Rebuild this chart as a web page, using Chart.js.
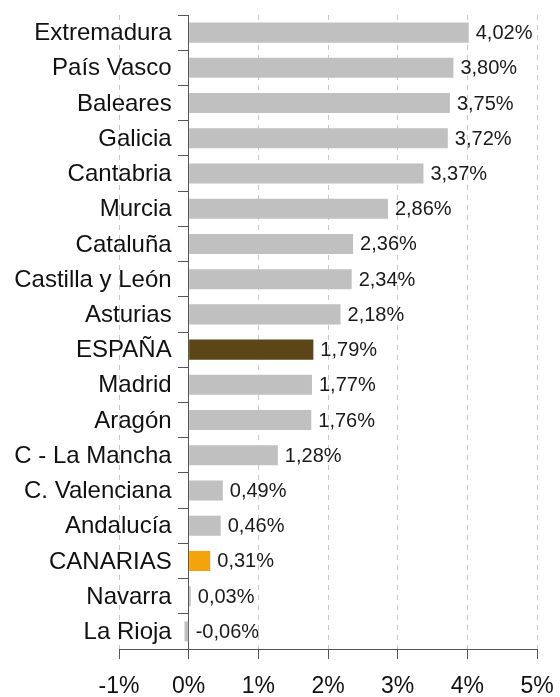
<!DOCTYPE html>
<html>
<head>
<meta charset="utf-8">
<script src="https://cdn.jsdelivr.net/npm/chart.js@4"></script>
<style>
  body { margin: 0; background: #fff; }
  #wrap { width: 560px; height: 697px; position: relative; }
</style>
</head>
<body>
<div id="wrap"><canvas id="growth-chart"></canvas></div>
<script>
// ============ DATA ===========================//

const regions = ["Extremadura", "País Vasco", "Baleares", "Galicia", "Cantabria",
  "Murcia", "Cataluña", "Castilla y León", "Asturias", "ESPAÑA", "Madrid", "Aragón",
  "C - La Mancha", "C. Valenciana", "Andalucía", "CANARIAS", "Navarra", "La Rioja"];

const growth = [4.02, 3.80, 3.75, 3.72, 3.37, 2.86, 2.36, 2.34, 2.18, 1.79, 1.77, 1.76,
  1.28, 0.49, 0.46, 0.31, 0.03, -0.06];

const xTicks = [-1, 0, 1, 2, 3, 4, 5];

// ============ COLOURS ===========================//

const barGrey = "#c0c0c0";
const spainColor = "#5c4516";
const canaryColor = "#f5a30c";
const axisColor = "#555555";
const fontFamily = "'Liberation Sans', Arial, sans-serif";

const barColors = regions.map((r) => {
  if (r === "ESPAÑA") return spainColor;
  if (r === "CANARIAS") return canaryColor;
  return barGrey;
});

// ============ LABELS (category names + values) ===========================//

const chartLabels = {
  id: "chartLabels",
  afterDatasetsDraw(chart) {
    const ctx = chart.ctx;
    const yScale = chart.scales.y;
    const zero = chart.scales.x.getPixelForValue(0);
    const meta = chart.getDatasetMeta(0);
    ctx.save();
    ctx.textBaseline = "middle";

    // region names, right of them the axis ticks
    ctx.font = "24px " + fontFamily;
    ctx.fillStyle = "#111";
    ctx.textAlign = "right";
    regions.forEach((r, i) => {
      ctx.fillText(r, zero - 17, yScale.getPixelForTick(i) + 1);
    });

    // value labels at the bar ends
    ctx.font = "20px " + fontFamily;
    ctx.fillStyle = "#1a1a1a";
    ctx.textAlign = "left";
    meta.data.forEach((bar, i) => {
      const txt = growth[i].toFixed(2).replace(".", ",") + "%";
      ctx.fillText(txt, Math.max(bar.x, zero) + 7, bar.y + 1);
    });
    ctx.restore();
  }
};

// ============ CHART ===========================//

const growthChart = new Chart(document.getElementById("growth-chart"), {
  type: "bar",
  data: {
    labels: regions,
    datasets: [{
      data: growth,
      backgroundColor: barColors,
      borderWidth: 0,
      barPercentage: 0.57,
      categoryPercentage: 1
    }]
  },
  options: {
    indexAxis: "y",
    responsive: true,
    maintainAspectRatio: false,
    animation: false,
    layout: { padding: { left: 119, right: 23, top: 15, bottom: 0 } },
    plugins: {
      legend: { display: false },
      tooltip: { enabled: false }
    },
    scales: {
      x: {
        min: -1,
        max: 5,
        afterBuildTicks: (axis) => { axis.ticks = xTicks.map((v) => ({ value: v })); },
        afterFit: (axis) => {
          axis.height = 48;
          axis.paddingLeft = 0;
          axis.paddingRight = 0;
        },
        grid: {
          color: "#c8c8c8",
          lineWidth: 1,
          tickColor: axisColor,
          tickLength: 10
        },
        border: { color: axisColor, dash: [5, 5] },
        ticks: {
          color: "#111",
          padding: 14,
          font: { family: fontFamily, size: 23 },
          callback: (v) => v + "%"
        }
      },
      y: {
        position: { x: 0 },
        grid: {
          drawOnChartArea: false,
          tickColor: axisColor,
          tickLength: 10,
          offset: true
        },
        border: { color: axisColor },
        ticks: { display: false, autoSkip: false }
      }
    }
  },
  plugins: [chartLabels]
});
</script>
</body>
</html>
